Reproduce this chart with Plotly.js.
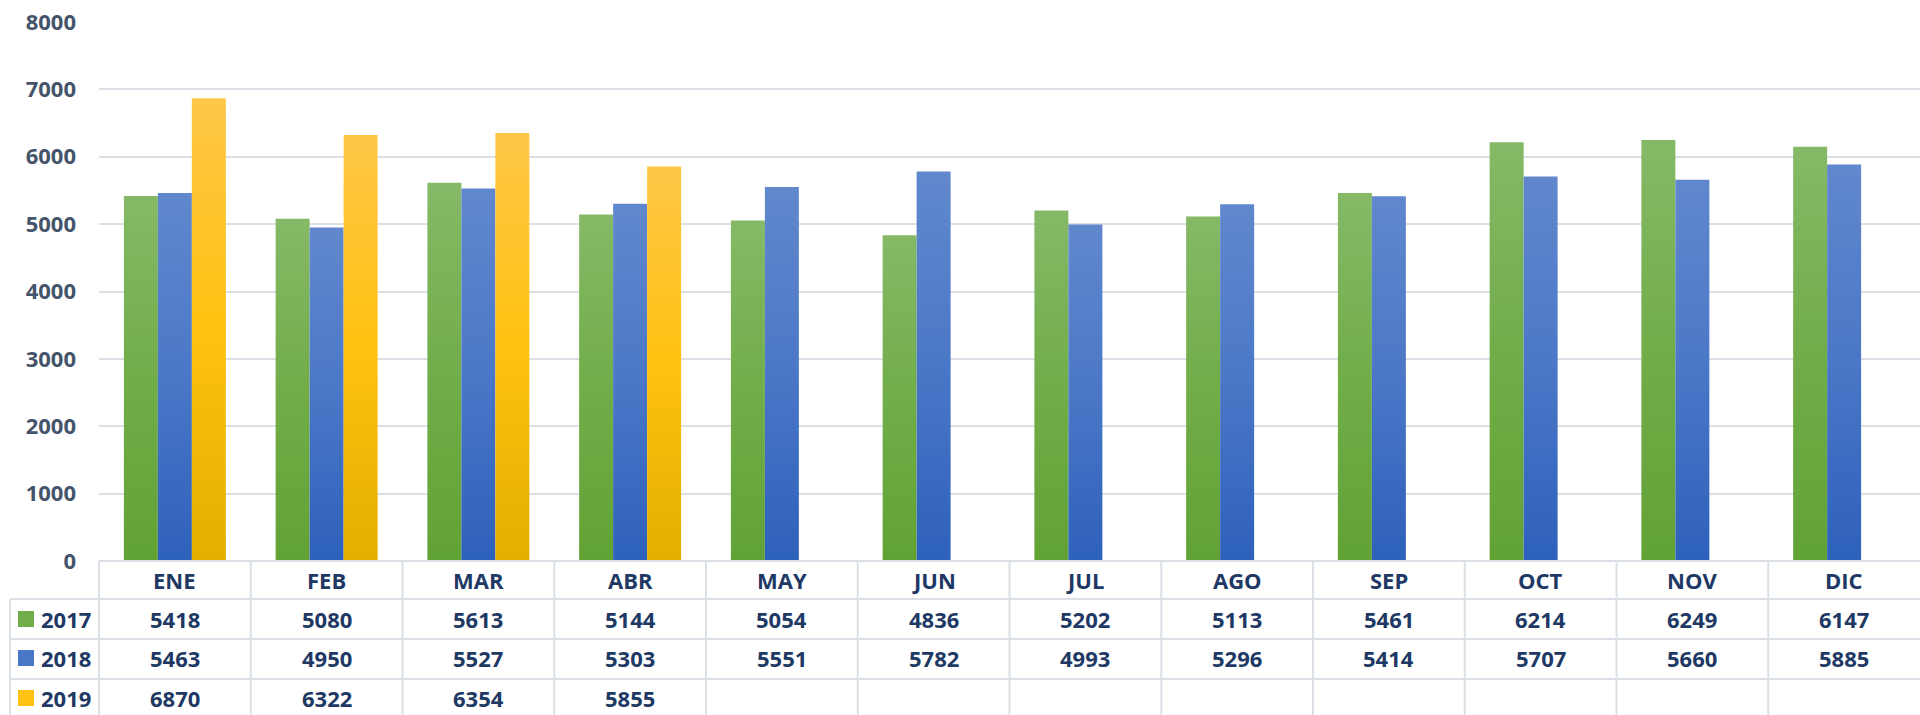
<!DOCTYPE html>
<html>
<head>
<meta charset="utf-8">
<script src="https://cdn.plot.ly/plotly-3.0.1.min.js"></script>
<style>html,body{margin:0;padding:0;background:#fff;}#chart{width:1920px;height:715px;}</style>
</head>
<body>
<div id="chart"></div>
<script>
const months = ["ENE","FEB","MAR","ABR","MAY","JUN","JUL","AGO","SEP","OCT","NOV","DIC"];
const years = ["2017","2018","2019"];
const s2017 = [5418,5080,5613,5144,5054,4836,5202,5113,5461,6214,6249,6147];
const s2018 = [5463,4950,5527,5303,5551,5782,4993,5296,5414,5707,5660,5885];
const s2019 = [6870,6322,6354,5855,null,null,null,null,null,null,null,null];
const yTicks = [0,1000,2000,3000,4000,5000,6000,7000,8000];

const series = [s2017, s2018, s2019];
const baseColors = ["#70ad47","#4472c4","#ffc000"];
const gradStops = [
  ["#85b967","#71ad49","#61a235"],
  ["#6188cd","#4a77c7","#2e61bb"],
  ["#ffc748","#ffc210","#e2af00"]
];

const L = 99, T = 22, W = 1821, H = 539;
const px = x => (x - L) / W;
const py = y => (T + H - y) / H;

const traces = series.map((s, i) => ({
  type: "bar",
  name: years[i],
  x: months,
  y: s,
  marker: {color: baseColors[i], line: {width: 0}},
  hoverinfo: "x+y+name"
}));

const gridCol = "#dbdfe6";
const shapes = [];
const annotations = [];
const tableFont = {family: "Open Sans, sans-serif", size: 22, color: "#203864", weight: "bold"};

// table lines
shapes.push({type:"line", xref:"paper", yref:"paper", x0:0, x1:1, y0:py(561), y1:py(561), line:{color:gridCol, width:2}});
[599, 639, 679].forEach(y => shapes.push({type:"line", xref:"paper", yref:"paper", x0:px(10), x1:1, y0:py(y), y1:py(y), line:{color:gridCol, width:2}}));
shapes.push({type:"line", xref:"paper", yref:"paper", x0:px(10), x1:px(10), y0:py(599), y1:py(720), line:{color:gridCol, width:2}});
for (let k = 0; k < months.length; k++) {
  shapes.push({type:"line", xref:"paper", yref:"paper", x0:k/months.length, x1:k/months.length, y0:py(561), y1:py(720), line:{color:gridCol, width:2}});
}

// header row
const rowY = [619, 658, 698];
months.forEach((m, k) => {
  annotations.push({xref:"paper", yref:"paper", x:(k+0.5)/months.length, y:py(580), text:m, showarrow:false, xanchor:"center", yanchor:"middle", font:tableFont});
  series.forEach((s, i) => {
    if (s[k] !== null && s[k] !== undefined) {
      annotations.push({xref:"paper", yref:"paper", x:(k+0.5)/months.length, y:py(rowY[i]), text:String(s[k]), showarrow:false, xanchor:"center", yanchor:"middle", font:tableFont});
    }
  });
});
// legend keys
years.forEach((yr, i) => {
  shapes.push({type:"rect", xref:"paper", yref:"paper", x0:px(18), x1:px(34), y0:py(rowY[i]-8), y1:py(rowY[i]+8), fillcolor:gradStops[i][1], line:{width:0}});
  annotations.push({xref:"paper", yref:"paper", x:px(39), y:py(rowY[i]), text:yr, showarrow:false, xanchor:"left", yanchor:"middle", font:tableFont});
});

const layout = {
  width: 1920, height: 715,
  margin: {l: L, r: 0, t: T, b: 715 - T - H, pad: 0},
  paper_bgcolor: "#ffffff",
  plot_bgcolor: "#ffffff",
  barmode: "group",
  bargap: 0.328,
  bargroupgap: 0,
  showlegend: false,
  xaxis: {type:"category", range:[-0.5, 11.5], showticklabels:false, showgrid:false, zeroline:false, showline:false, ticks:""},
  yaxis: {range:[0, 8000], tickvals:yTicks, ticktext:yTicks.map(String), showgrid:true, gridcolor:gridCol, gridwidth:2, zeroline:false, showline:false, ticks:"", ticklabelstandoff:22,
          tickfont:{family:"Open Sans, sans-serif", size:22, color:"#44546a", weight:"bold"}},
  shapes: shapes,
  annotations: annotations
};

Plotly.newPlot("chart", traces, layout, {displayModeBar:false, staticPlot:true}).then(gd => {
  const svg = gd.querySelector(".main-svg");
  const NS = "http://www.w3.org/2000/svg";
  let defs = svg.querySelector("defs");
  if (!defs) { defs = document.createElementNS(NS, "defs"); svg.insertBefore(defs, svg.firstChild); }
  gradStops.forEach((stops, i) => {
    const g = document.createElementNS(NS, "linearGradient");
    g.setAttribute("id", "barGrad" + i);
    g.setAttribute("x1", "0"); g.setAttribute("y1", "0");
    g.setAttribute("x2", "0"); g.setAttribute("y2", "1");
    [0, 0.5, 1].forEach((o, j) => {
      const st = document.createElementNS(NS, "stop");
      st.setAttribute("offset", String(o));
      st.setAttribute("stop-color", stops[j]);
      g.appendChild(st);
    });
    defs.appendChild(g);
  });
  gd.querySelectorAll(".barlayer .trace.bars").forEach((tr, i) => {
    tr.querySelectorAll(".point path").forEach(p => { p.style.fill = "url(#barGrad" + i + ")"; });
  });
});
</script>
</body>
</html>
